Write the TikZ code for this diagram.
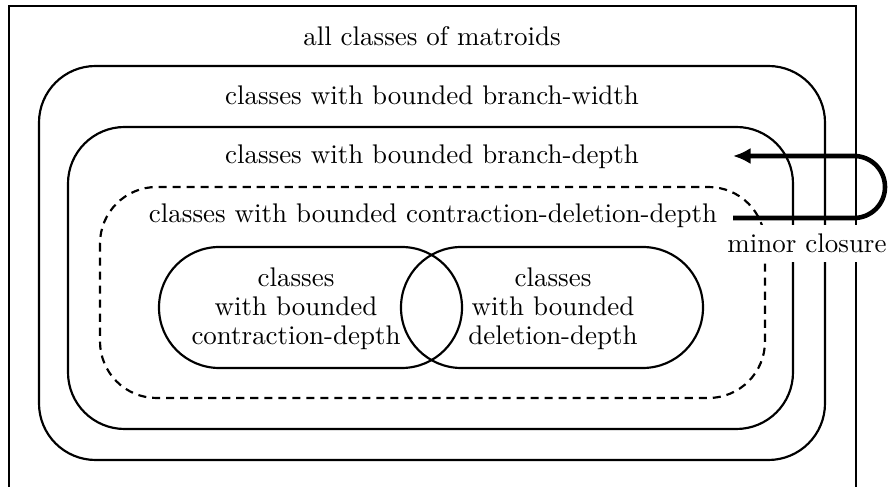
\documentclass[tikz,border=0pt]{standalone}
\usetikzlibrary{arrows.meta}
\begin{document}
\begin{tikzpicture}[x=0.371pt,y=-0.371pt,line width=0.8pt,
  region/.style={rounded corners=21pt},
  dregion/.style={region,dash pattern=on 3pt off 2.2pt},
  stadium/.style={rounded corners=22.4pt},
  lbl/.style={anchor=base,inner sep=0pt},
  inner/.style={align=center,inner sep=0pt},
  closure/.style={line width=1.7pt,-{Latex[length=6.5pt,width=6pt]},rounded corners=11.5pt}]
\useasboundingbox (0,0) rectangle (889,487);
% outer box (open at bottom)
\draw (9,487) -- (9,6) -- (856,6) -- (856,487);
\draw[region] (39,66) rectangle (825,460);
\draw[region] (68,127) rectangle (793,429);
\draw[dregion] (100,187) rectangle (765,398);
\draw[stadium] (159,247) rectangle (462,368);
\draw[stadium] (401,247) rectangle (703,368);
\node[lbl] (all) at (432,46) {all classes of matroids};
\node[lbl] (bw) at (432,105) {classes with bounded branch-width};
\node[lbl] (bd) at (432,164) {classes with bounded branch-depth};
\node[lbl] (cdd) at (433,223) {classes with bounded contraction-deletion-depth};
\node[inner] (cd) at (296,308.5) {classes\\[-1.2pt]with bounded\\[-1.2pt]contraction-depth};
\node[inner] (dd) at (553,308.5) {classes\\[-1.2pt]with bounded\\[-1.2pt]deletion-depth};
\node[fill=white,anchor=base] (mc) at (807,253) {minor closure};
\coordinate (s) at (733,218);
\coordinate (e) at (733,156);
\draw[closure] (s) -- (885,218) -- (885,156) -- (e);
\end{tikzpicture}
\end{document}
